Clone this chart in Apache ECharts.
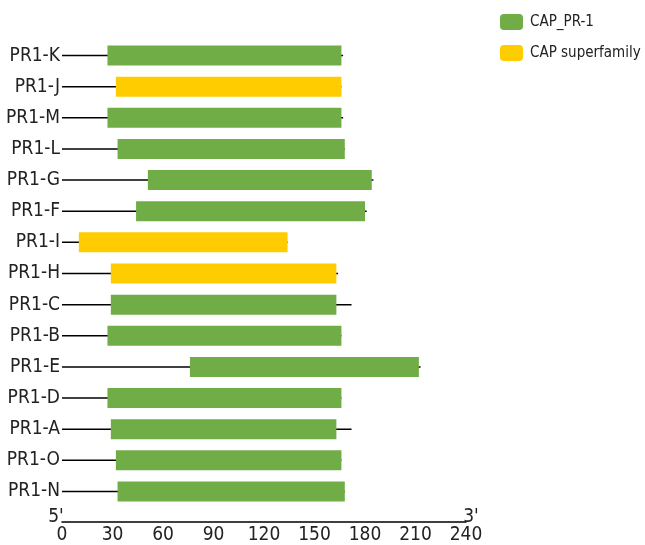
<!DOCTYPE html>
<html><head><meta charset="utf-8">
<script src="https://cdn.jsdelivr.net/npm/echarts@6/dist/echarts.min.js"></script>
<style>html,body{margin:0;padding:0;background:#fff}#c{width:645px;height:545px}</style>
</head><body><div id="c"></div>
<script>
const proteins = ['PR1-K','PR1-J','PR1-M','PR1-L','PR1-G','PR1-F','PR1-I','PR1-H','PR1-C','PR1-B','PR1-E','PR1-D','PR1-A','PR1-O','PR1-N'];
const proteinLength = [167,166,167,168,185,181,134,164,172,166,213,166,172,166,168];
const domainStart = [27,32,27,33,51,44,10,29,29,27,76,27,29,32,33];
const domainEnd = [166,166,166,168,184,180,134,163,163,166,212,166,163,166,168];
const domainType = ['CAP_PR-1','CAP superfamily','CAP_PR-1','CAP_PR-1','CAP_PR-1','CAP_PR-1','CAP superfamily','CAP superfamily','CAP_PR-1','CAP_PR-1','CAP_PR-1','CAP_PR-1','CAP_PR-1','CAP_PR-1','CAP_PR-1'];
const domainNames = ['CAP_PR-1','CAP superfamily'];
const domainColors = ['#70AD47','#FFCC00'];
const axisMin = 0, axisMax = 240, axisStep = 30;
const endLabels = ["5'", "3'"];

const FONT = "'Liberation Sans Narrow','DejaVu Sans Condensed','Liberation Sans',sans-serif";
const chart = echarts.init(document.getElementById('c'), null, {renderer:'canvas'});

function renderItem(params, api){
  const y = api.value(0);
  const p0 = api.coord([axisMin, y]);
  const pL = api.coord([api.value(3), y]);
  const pS = api.coord([api.value(1), y]);
  const pE = api.coord([api.value(2), y]);
  const h = 20;
  return {type:'group', children:[
    {type:'line', shape:{x1:p0[0], y1:p0[1], x2:pL[0], y2:pL[1]}, style:{stroke:'#000', lineWidth:1.5}},
    {type:'rect', shape:{x:pS[0], y:pS[1]-h/2, width:pE[0]-pS[0], height:h}, style:{fill:api.visual('color')}}
  ]};
}

const series = domainNames.map((nm, k) => ({
  type:'custom', name:nm, renderItem,
  itemStyle:{color:domainColors[k]},
  encode:{x:[1,2,3], y:0},
  data: proteins.map((p,i)=>[i, domainStart[i], domainEnd[i], proteinLength[i]]).filter((d)=>domainType[d[0]]===nm)
}));

chart.setOption({
  animation:false,
  backgroundColor:'#fff',
  grid:{left:62, right:179, top:40, bottom:35},
  legend:{left:495, top:9, orient:'vertical', itemWidth:23, itemHeight:16, itemGap:15, icon:'roundRect',
    textStyle:{fontFamily:FONT, fontSize:15, color:'#222', padding:[0,0,0,2]}, data:domainNames},
  xAxis:{type:'value', min:axisMin, max:axisMax, interval:axisStep, offset:15,
    axisLine:{show:true, lineStyle:{color:'#000', width:1.5}}, axisTick:{show:false}, splitLine:{show:false},
    axisLabel:{color:'#222', fontFamily:FONT, fontSize:19, margin:4}},
  yAxis:{type:'category', data:proteins, inverse:true,
    axisLine:{show:false}, axisTick:{show:false}, splitLine:{show:false},
    axisLabel:{color:'#222', fontFamily:FONT, fontSize:19, margin:2}},
  series
});

// 5' / 3' end markers placed via the axis scale
const yAx = 517;
const gEls = [axisMin, axisMax].map((v,i)=>{
  const px = chart.convertToPixel({xAxisIndex:0}, v);
  return {type:'text', x: px + (i===0 ? -6 : 5), y: yAx, style:{text:endLabels[i], font:"19px "+FONT, fill:'#222', align:'center', verticalAlign:'middle'}};
});
chart.setOption({graphic:{elements:gEls}});
</script></body></html>
